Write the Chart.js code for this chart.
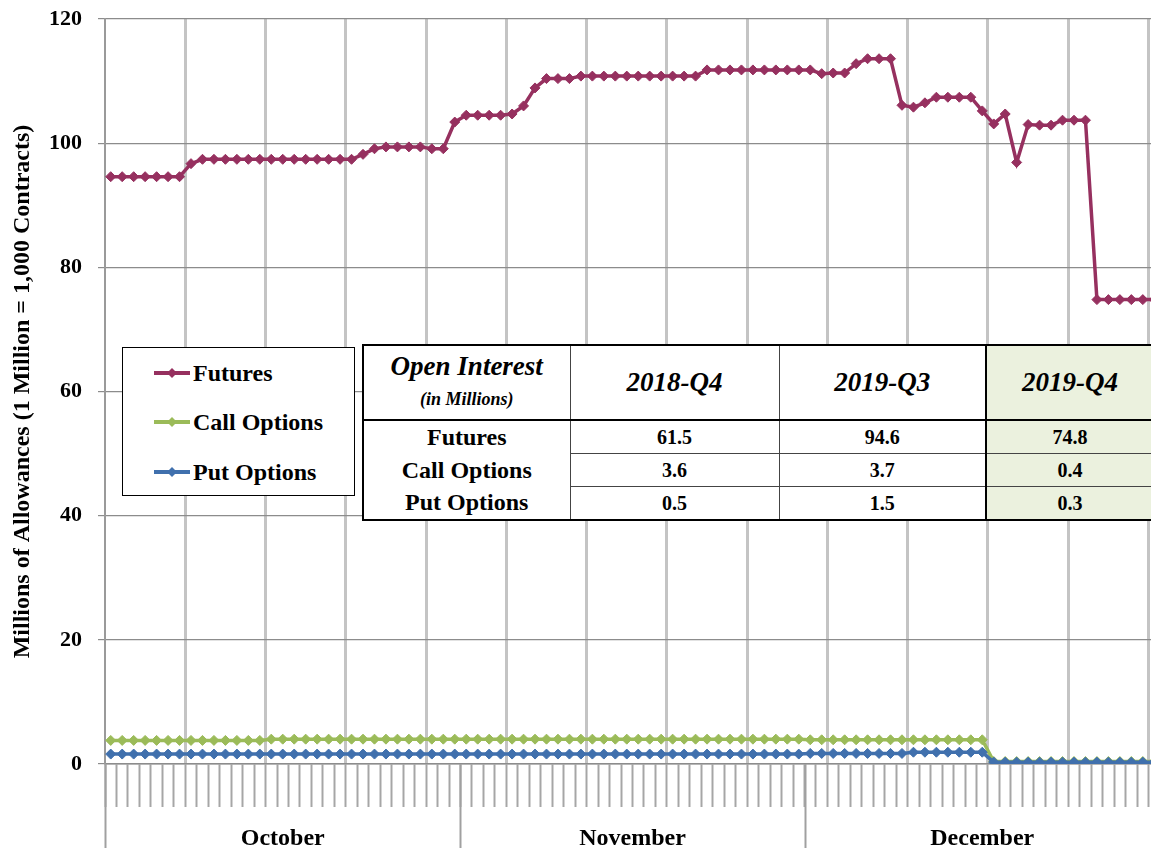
<!DOCTYPE html>
<html>
<head>
<meta charset="utf-8">
<script src="https://cdn.jsdelivr.net/npm/chart.js@4.4.1/dist/chart.umd.min.js"></script>
<style>
  html, body { margin: 0; padding: 0; background: #fff; overflow: hidden; }
  #wrap { position: relative; width: 1166px; height: 848px; }
  #chart { position: absolute; left: 0; top: 0; }
  .serif { font-family: "Liberation Serif", "Times New Roman", serif; color: #000; }
  #legend {
    position: absolute; left: 122px; top: 347px; width: 233px; height: 149px;
    box-sizing: border-box; border: 1.5px solid #000; background: #fff;
  }
  #legend .row { position: absolute; left: 30px; height: 30px; display: flex; align-items: center;
    font-weight: bold; font-size: 24px; }
  #legend svg { margin-right: 2px; }
  #oi {
    position: absolute; left: 362px; top: 344px; border-collapse: collapse; table-layout: fixed;
    background: #fff;
  }
  #oi td { padding: 0; text-align: center; font-weight: bold; border: none; }
  #oi .hd { height: 73px; font-style: italic; font-size: 27px; border-bottom: 2px solid #000; border-top: 2px solid #000; }
  #oi .v { height: 32px; font-size: 20px; border-left: 1px solid #444; border-bottom: 1px solid #444; }
  #oi .lab { font-size: 24px; height: 32px; border-left: 2px solid #000; }
  #oi .q4 { background: #ebf1de; border-left: 2px solid #000; border-right: 2px solid #000; }
  #oi tr:last-child td { border-bottom: 2px solid #000; }
</style>
</head>
<body>
<div id="wrap">
  <canvas id="chart" width="1166" height="848"></canvas>
  <div id="legend" class="serif"></div>
  <table id="oi" class="serif"></table>
</div>
<script>
// categories: calendar days of 2019-Q4
const months = ['October', 'November', 'December'];
const monthDays = [31, 30, 31];

// open interest, millions of allowances
const futures = [
  94.6, 94.6, 94.6, 94.6, 94.6, 94.6, 94.6, 96.7, 97.4, 97.4,
  97.4, 97.4, 97.4, 97.4, 97.4, 97.4, 97.4, 97.4, 97.4, 97.4,
  97.4, 97.4, 98.2, 99.1, 99.4, 99.4, 99.4, 99.4, 99.1, 99.1,
  103.4, 104.5, 104.5, 104.5, 104.5, 104.7, 106.0, 108.9, 110.4, 110.4,
  110.4, 110.8, 110.8, 110.8, 110.8, 110.8, 110.8, 110.8, 110.8, 110.8,
  110.8, 110.8, 111.8, 111.8, 111.8, 111.8, 111.8, 111.8, 111.8, 111.8,
  111.8, 111.8, 111.2, 111.3, 111.3, 112.8, 113.6, 113.6, 113.6, 106.1,
  105.8, 106.5, 107.4, 107.4, 107.4, 107.4, 105.2, 103.1, 104.7, 96.9,
  103.0, 102.9, 102.9, 103.7, 103.7, 103.7, 74.8, 74.8, 74.8, 74.8,
  74.8, 74.8
];
const callOptions = [
  3.8, 3.8, 3.8, 3.8, 3.8, 3.8, 3.8, 3.8, 3.8, 3.8,
  3.8, 3.8, 3.8, 3.8, 4.0, 4.0, 4.0, 4.0, 4.0, 4.0,
  4.0, 4.0, 4.0, 4.0, 4.0, 4.0, 4.0, 4.0, 4.0, 4.0,
  4.0, 4.0, 4.0, 4.0, 4.0, 4.0, 4.0, 4.0, 4.0, 4.0,
  4.0, 4.0, 4.0, 4.0, 4.0, 4.0, 4.0, 4.0, 4.0, 4.0,
  4.0, 4.0, 4.0, 4.0, 4.0, 4.0, 4.0, 4.0, 4.0, 4.0,
  4.0, 3.9, 3.9, 3.9, 3.9, 3.9, 3.9, 3.9, 3.9, 3.9,
  3.9, 3.9, 3.9, 3.9, 3.9, 3.9, 3.9, 0.4, 0.4, 0.4,
  0.4, 0.4, 0.4, 0.4, 0.4, 0.4, 0.4, 0.4, 0.4, 0.4,
  0.4, 0.4
];
const putOptions = [
  1.6, 1.6, 1.6, 1.6, 1.6, 1.6, 1.6, 1.6, 1.6, 1.6,
  1.6, 1.6, 1.6, 1.6, 1.6, 1.6, 1.6, 1.6, 1.6, 1.6,
  1.6, 1.6, 1.6, 1.6, 1.6, 1.6, 1.6, 1.6, 1.6, 1.6,
  1.6, 1.6, 1.6, 1.6, 1.6, 1.6, 1.6, 1.6, 1.6, 1.6,
  1.6, 1.6, 1.6, 1.6, 1.6, 1.6, 1.6, 1.6, 1.6, 1.6,
  1.6, 1.6, 1.6, 1.6, 1.6, 1.6, 1.6, 1.6, 1.6, 1.6,
  1.6, 1.7, 1.7, 1.7, 1.7, 1.7, 1.7, 1.7, 1.7, 1.7,
  1.9, 1.9, 1.9, 1.9, 1.9, 1.9, 1.9, 0.3, 0.3, 0.3,
  0.3, 0.3, 0.3, 0.3, 0.3, 0.3, 0.3, 0.3, 0.3, 0.3,
  0.3, 0.3
];

const yTicks = [0, 20, 40, 60, 80, 100, 120];

// summary table
const quarters = ['2018-Q4', '2019-Q3', '2019-Q4'];
const tableRows = ['Futures', 'Call Options', 'Put Options'];
const tableValues = [
  ['61.5', '94.6', '74.8'],
  ['3.6', '3.7', '0.4'],
  ['0.5', '1.5', '0.3']
];

const seriesNames = ['Futures', 'Call Options', 'Put Options'];
const seriesColors = ['#96305f', '#9bbb59', '#4070ad'];

const FONT = '"Liberation Serif", "Times New Roman", serif';

// day labels
const labels = [];
months.forEach((m, k) => {
  for (let d = 1; d <= monthDays[k]; d++) labels.push(m + ' ' + d);
});

// month separators + month names under the axis
const monthAxis = {
  id: 'monthAxis',
  afterDraw(chart) {
    const { ctx, scales: { x } } = chart;
    const step = x.getPixelForValue(1) - x.getPixelForValue(0);
    ctx.save();
    ctx.strokeStyle = '#a0a0a0';
    ctx.lineWidth = 2;
    ctx.fillStyle = '#000';
    ctx.font = 'bold 24px ' + FONT;
    ctx.textAlign = 'center';
    ctx.textBaseline = 'alphabetic';
    let start = 0;
    months.forEach((m, k) => {
      const left = x.getPixelForValue(start) - step / 2;
      const right = left + monthDays[k] * step;
      ctx.beginPath();
      ctx.moveTo(Math.round(left) + 0.5, x.top);
      ctx.lineTo(Math.round(left) + 0.5, chart.height);
      ctx.stroke();
      ctx.fillText(m, (left + right) / 2, 845);
      start += monthDays[k];
    });
    ctx.restore();
  }
};

const datasets = [futures, callOptions, putOptions].map((d, i) => ({
  label: seriesNames[i],
  data: d,
  borderColor: seriesColors[i],
  backgroundColor: seriesColors[i],
  borderWidth: 3.5,
  pointStyle: 'rectRot',
  pointRadius: 5,
  pointBorderWidth: 1,
  tension: 0,
  order: 2 - i
}));

new Chart(document.getElementById('chart'), {
  type: 'line',
  data: { labels: labels, datasets: datasets },
  options: {
    responsive: false,
    animation: false,
    layout: { padding: { top: 19, right: 3, left: 0, bottom: 0 } },
    plugins: { legend: { display: false }, tooltip: { enabled: false } },
    scales: {
      x: {
        type: 'category',
        offset: true,
        ticks: { display: false, autoSkip: false },
        grid: {
          offset: true,
          color: c => (c.index > 0 && c.index % 7 === 0) ? '#c4c4c4' : 'rgba(0,0,0,0)',
          lineWidth: 3,
          drawTicks: true,
          tickLength: 43,
          tickColor: '#a6a6a6',
          tickWidth: 2
        },
        border: { display: true, color: '#8c8c8c', width: 1.5 },
        afterFit: s => { s.height = 84; }
      },
      y: {
        min: 0,
        max: 120,
        afterBuildTicks: s => { s.ticks = yTicks.map(v => ({ value: v })); },
        ticks: { color: '#000', padding: 16, font: { family: FONT, size: 22, weight: 'bold' } },
        grid: { color: '#8c8c8c', lineWidth: 1.2, tickLength: 7, tickColor: '#8c8c8c' },
        border: { display: true, color: '#9a9a9a', width: 2 },
        title: {
          display: true,
          text: 'Millions of Allowances (1 Million = 1,000 Contracts)',
          color: '#000',
          font: { family: FONT, size: 24, weight: 'bold' },
          padding: { top: 8, bottom: 0 }
        },
        afterFit: s => {
          s.width = 105;
          // tick padding would otherwise push the plot top down
          s.paddingTop = 0;
          s.paddingBottom = 0;
        }
      }
    }
  },
  plugins: [monthAxis]
});

// legend box
const legend = document.getElementById('legend');
const rowTops = [10, 59, 109];
seriesNames.forEach((name, i) => {
  const row = document.createElement('div');
  row.className = 'row';
  row.style.top = rowTops[i] + 'px';
  row.innerHTML =
    '<svg width="38" height="14"><line x1="1" y1="7" x2="37" y2="7" stroke="' + seriesColors[i] +
    '" stroke-width="4"/><polygon points="19,2 24,7 19,12 14,7" fill="' + seriesColors[i] + '"/></svg>' +
    '<span>' + name + '</span>';
  legend.appendChild(row);
});

// open interest table
const table = document.getElementById('oi');
const widths = [207, 209, 207, 168];
let html = '<colgroup>' + widths.map(w => '<col style="width:' + w + 'px">').join('') + '</colgroup>';
html += '<tr><td class="hd" style="border-left:2px solid #000;line-height:30px">Open Interest<br>' +
  '<span style="font-size:18px">(in Millions)</span></td>';
quarters.forEach((q, j) => {
  html += '<td class="hd' + (j === 2 ? ' q4' : '') + '" style="' + (j < 2 ? 'border-left:1px solid #444' : '') + '">' + q + '</td>';
});
html += '</tr>';
tableRows.forEach((r, i) => {
  html += '<tr><td class="lab">' + r + '</td>';
  tableValues[i].forEach((v, j) => {
    html += '<td class="v' + (j === 2 ? ' q4' : '') + '">' + v + '</td>';
  });
  html += '</tr>';
});
table.innerHTML = html;
</script>
</body>
</html>
